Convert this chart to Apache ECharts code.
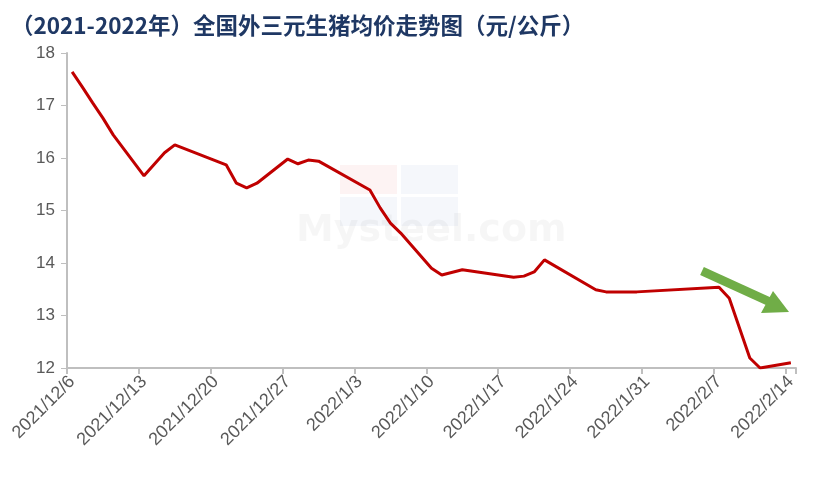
<!DOCTYPE html>
<html>
<head>
<meta charset="utf-8">
<script src="https://cdn.jsdelivr.net/npm/echarts@6/dist/echarts.min.js"></script>
<style>
html,body{margin:0;padding:0;background:#fff;}
#c{width:816px;height:486px;}
</style>
</head>
<body>
<div id="c"></div>
<script>
// Title
var titleText = '（2021-2022年）全国外三元生猪均价走势图（元/公斤）';

// Daily dates 2021/12/6 .. 2022/2/14
var dates = [
 '2021/12/6','2021/12/7','2021/12/8','2021/12/9','2021/12/10','2021/12/11','2021/12/12',
 '2021/12/13','2021/12/14','2021/12/15','2021/12/16','2021/12/17','2021/12/18','2021/12/19',
 '2021/12/20','2021/12/21','2021/12/22','2021/12/23','2021/12/24','2021/12/25','2021/12/26',
 '2021/12/27','2021/12/28','2021/12/29','2021/12/30','2021/12/31','2022/1/1','2022/1/2',
 '2022/1/3','2022/1/4','2022/1/5','2022/1/6','2022/1/7','2022/1/8','2022/1/9',
 '2022/1/10','2022/1/11','2022/1/12','2022/1/13','2022/1/14','2022/1/15','2022/1/16',
 '2022/1/17','2022/1/18','2022/1/19','2022/1/20','2022/1/21','2022/1/22','2022/1/23',
 '2022/1/24','2022/1/25','2022/1/26','2022/1/27','2022/1/28','2022/1/29','2022/1/30',
 '2022/1/31','2022/2/1','2022/2/2','2022/2/3','2022/2/4','2022/2/5','2022/2/6',
 '2022/2/7','2022/2/8','2022/2/9','2022/2/10','2022/2/11','2022/2/12','2022/2/13',
 '2022/2/14'
];

// Average price (yuan/kg); null = no reading (line connects across)
var prices = [
 17.64, 17.35, 17.05, 16.76, 16.44, null, null,
 15.66, null, 16.10, 16.25, null, null, null,
 null, 15.87, 15.52, 15.43, 15.52, null, null,
 15.98, 15.89, 15.96, 15.94, null, null, null,
 null, 15.39, 15.05, 14.76, 14.57, null, null,
 13.90, 13.77, null, 13.87, null, null, null,
 null, 13.73, 13.75, 13.83, 14.06, null, null,
 null, null, 13.49, 13.45, null, null, 13.45,
 null, null, null, null, null, null, null,
 13.54, 13.33, null, 12.19, 12.00, null, null,
 12.10
];

var yTicks = [12, 13, 14, 15, 16, 17, 18];

var chart = echarts.init(document.getElementById('c'), null, {renderer: 'canvas'});
var gray = '#bfbfbf';
var labelColor = '#595959';

chart.setOption({
  backgroundColor: '#ffffff',
  animation: false,
  title: {
    text: titleText,
    left: 6,
    top: 9,
    textStyle: {
      fontFamily: '"Noto Sans CJK SC", sans-serif',
      fontSize: 22.5,
      fontWeight: 'bold',
      color: '#1f3864'
    }
  },
  grid: {left: 67, right: 20, top: 53, bottom: 118},
  xAxis: {
    type: 'category',
    data: dates,
    boundaryGap: true,
    axisLine: {lineStyle: {color: gray, width: 2}},
    axisTick: {show: true, interval: 6, length: 6, lineStyle: {color: gray, width: 2}},
    axisLabel: {
      interval: 6,
      rotate: 45,
      margin: 11,
      color: labelColor,
      fontSize: 18,
      fontFamily: '"Liberation Sans", Arial, sans-serif'
    },
    splitLine: {show: false}
  },
  yAxis: {
    type: 'value',
    min: yTicks[0],
    max: yTicks[yTicks.length - 1],
    interval: 1,
    axisLine: {show: true, lineStyle: {color: gray, width: 2}},
    axisTick: {show: true, length: 6, lineStyle: {color: gray, width: 1}},
    axisLabel: {
      color: labelColor,
      fontSize: 17,
      margin: 12,
      fontFamily: '"Liberation Sans", Arial, sans-serif'
    },
    splitLine: {show: false}
  },
  series: [{
    type: 'line',
    data: prices,
    connectNulls: true,
    showSymbol: false,
    symbol: 'none',
    smooth: false,
    z: 5,
    lineStyle: {color: '#c00000', width: 3}
  }],
  graphic: [
    // faint watermark
    {type: 'rect', shape: {x: 340, y: 165, width: 57, height: 29}, style: {fill: 'rgba(230,90,90,0.07)'}, z: 0, silent: true},
    {type: 'rect', shape: {x: 401, y: 165, width: 57, height: 29}, style: {fill: 'rgba(90,120,190,0.06)'}, z: 0, silent: true},
    {type: 'rect', shape: {x: 340, y: 197, width: 57, height: 29}, style: {fill: 'rgba(90,120,190,0.06)'}, z: 0, silent: true},
    {type: 'rect', shape: {x: 401, y: 197, width: 57, height: 29}, style: {fill: 'rgba(90,120,190,0.06)'}, z: 0, silent: true},
    {type: 'text', left: 296, top: 212, z: 0, silent: true,
      style: {text: 'Mysteel.com', fill: 'rgba(0,0,0,0.035)', font: 'bold 38px "DejaVu Sans", sans-serif'}},
    // green arrow annotation
    {type: 'polyline', z: 10, silent: true,
      shape: {points: [[702, 271], [770, 302]]},
      style: {stroke: '#70ad47', lineWidth: 9}},
    {type: 'polygon', z: 10, silent: true,
      shape: {points: [[773, 291], [761, 313], [789, 312]]},
      style: {fill: '#70ad47'}}
  ]
});
</script>
</body>
</html>
